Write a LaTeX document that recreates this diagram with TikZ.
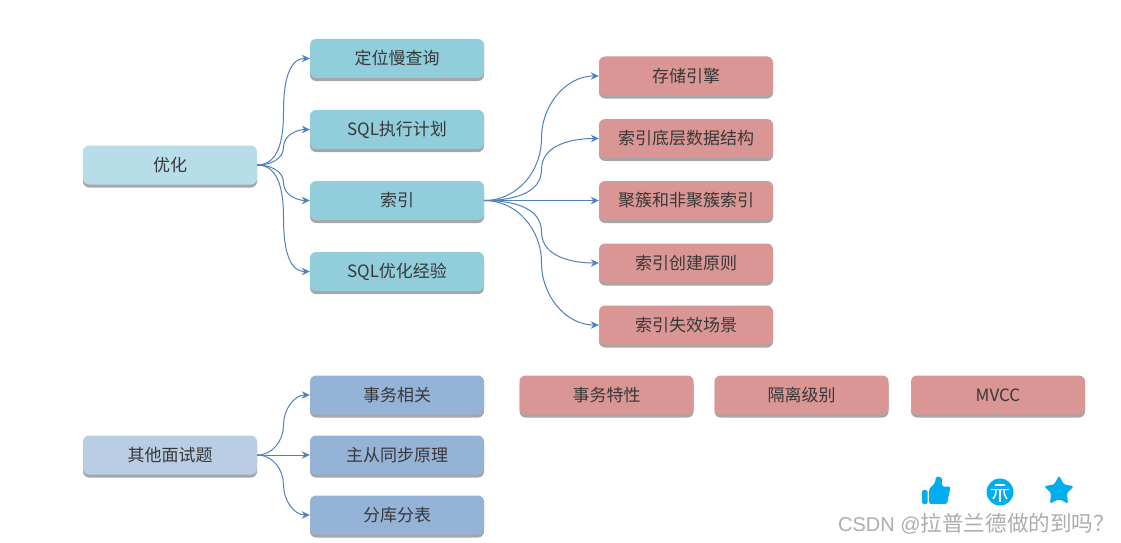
\documentclass[tikz,border=0pt]{standalone}
\usepackage{fontspec}
\setmainfont{Noto Sans CJK SC}
\newfontfamily\latinfont{Liberation Sans}
\usepackage{tikz}
\usetikzlibrary{arrows.meta,calc,shadows,shapes.geometric}
\definecolor{linkblue}{HTML}{4F81BD}
\definecolor{paleteal}{HTML}{B7DDE8}
\definecolor{teal}{HTML}{92CDDC}
\definecolor{rosered}{HTML}{D99694}
\definecolor{paleblue}{HTML}{B9CDE5}
\definecolor{midblue}{HTML}{95B3D7}
\definecolor{iconblue}{HTML}{00AEEF}
\newcommand{\uplink}[2]{\draw[link] (#1.east) to[out=0,in=-90] ($(#1.east)!.5!(#2.west)$) to[out=90,in=180] (#2.west);}
\newcommand{\downlink}[2]{\draw[link] (#1.east) to[out=0,in=90] ($(#1.east)!.5!(#2.west)$) to[out=-90,in=180] (#2.west);}
\begin{document}
\begin{tikzpicture}[x=1pt,y=1pt]
	\tikzstyle{box}= [rectangle, rounded corners=6pt, minimum width=174pt, minimum height=39pt, inner sep=0pt, text=black!78, font=\fontsize{17}{18}\selectfont, drop shadow={shadow xshift=0pt, shadow yshift=-3pt, fill=black, opacity=.35}]
	\tikzstyle{link}= [linkblue, line width=1pt, -{Stealth[length=8pt,width=7.5pt]}]
	\useasboundingbox (0,0) rectangle (1121,-543);
	\fill[white] (0,0) rectangle (1121,-543);
	\node [box, fill=paleteal] (opt) at (170,-165) {优化};
	\node [box, fill=teal] (slow) at (397,-58.5) {定位慢查询};
	\node [box, fill=teal] (plan) at (397,-129.5) {SQL执行计划};
	\node [box, fill=teal] (idx) at (397,-200.5) {索引};
	\node [box, fill=teal] (exp) at (397,-271.5) {SQL优化经验};
	\node [box, fill=rosered] (r1) at (686,-76) {存储引擎};
	\node [box, fill=rosered] (r2) at (686,-138.5) {索引底层数据结构};
	\node [box, fill=rosered] (r3) at (686,-200.5) {聚簇和非聚簇索引};
	\node [box, fill=rosered] (r4) at (686,-263) {索引创建原则};
	\node [box, fill=rosered] (r5) at (686,-325) {索引失效场景};
	\node [box, fill=paleblue] (other) at (170,-455) {其他面试题};
	\node [box, fill=midblue] (tx) at (397,-395) {事务相关};
	\node [box, fill=midblue] (sync) at (397,-455) {主从同步原理};
	\node [box, fill=midblue] (shard) at (397,-515) {分库分表};
	\node [box, fill=rosered] (t1) at (606.5,-395) {事务特性};
	\node [box, fill=rosered] (t2) at (801.5,-395) {隔离级别};
	\node [box, fill=rosered] (t3) at (998,-395) {MVCC};
	\uplink{opt}{slow}
	\uplink{opt}{plan}
	\downlink{opt}{idx}
	\downlink{opt}{exp}
	\uplink{idx}{r1}
	\uplink{idx}{r2}
	\draw[link] (idx.east) -- (r3.west);
	\downlink{idx}{r4}
	\downlink{idx}{r5}
	\uplink{other}{tx}
	\draw[link] (other.east) -- (sync.west);
	\downlink{other}{shard}
	% icons
	\fill[iconblue, rounded corners=1.5pt] (922,-490) rectangle (927.5,-504);
	\fill[iconblue, rounded corners=1.5pt] (929,-504) -- (929,-489) -- (935,-483) -- (936,-476.5) -- (942,-477.5) -- (942,-486.5) -- (950.5,-486.5) -- (947,-504) -- cycle;
	\fill[iconblue] (1000,-492) circle (13.5);
	\draw[white, line width=1.5pt] (995,-485) -- (1005,-485) (991,-489.5) -- (1009,-489.5) (1000,-489.5) -- (1000,-501.5);
	\draw[white, line width=1.5pt] (996,-490) .. controls (996,-494) and (995,-497) .. (993,-499) (1004,-490) .. controls (1004,-494) and (1005,-497) .. (1007,-499);
	\node [star, star points=5, star point ratio=1.9, fill=iconblue, rounded corners=1.5pt, minimum size=31pt, inner sep=0pt] (fav) at (1059,-491) {};
	\node [text=black!32, font=\fontsize{21.6}{23}\selectfont, anchor=west, inner sep=0pt] (mark) at (838,-524) {{\latinfont\fontsize{20}{23}\selectfont CSDN @}拉普兰德做的到吗？};
\end{tikzpicture}
\end{document}
